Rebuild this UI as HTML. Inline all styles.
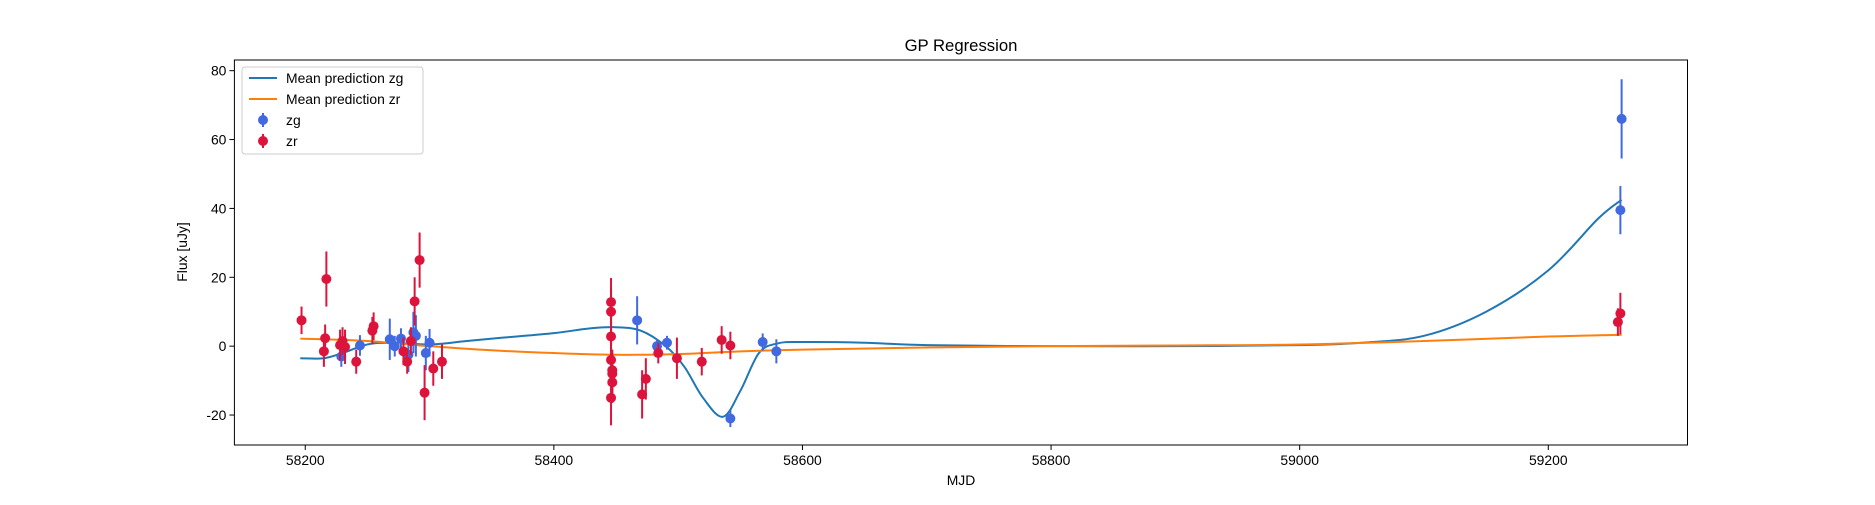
<!DOCTYPE html>
<html><head><meta charset="utf-8"><style>
body{margin:0;background:#fff}
svg text{font-family:"Liberation Sans","DejaVu Sans",sans-serif;fill:#000}
</style></head><body>
<svg id="chart" width="1875" height="500" xmlns="http://www.w3.org/2000/svg">
<rect width="1875" height="500" fill="#fff"/>
<g id="plot"></g>
</svg>
<script>
const zgMJD=[58229,58244,58268,58272,58277,58283,58287,58289,58297,58300,58467,58483,58491,58542,58568,58579,59258,59259];
const zgFlux=[-3,0.2,2,0,2.2,-2.5,4,3,-2,1,7.5,0,1,-21,1.2,-1.5,39.5,66];
const zgErr=[3,3,6,3,3,5,6,6,5,4,7,2,2,2.5,2.5,3.5,7,11.5];
const zrMJD=[58197,58215,58217,58216,58228,58230,58232,58241,58254,58255,58279,58282,58285,58288,58292,58296,58303,58310,58446,58446,58446,58446,58447,58447,58447,58446,58471,58474,58484,58499,58519,58535,58542,59256,59258];
const zrFlux=[7.5,-1.5,19.5,2.3,0.3,1.5,-0.2,-4.5,4.5,5.8,-1.5,-4.5,1.5,13,25,-13.5,-6.5,-4.5,12.8,10,2.8,-4,-7,-8,-10.5,-15,-14,-9.5,-2,-3.5,-4.5,1.8,0.2,7,9.5];
const zrErr=[4,4.5,8,4,4.5,4,5,3.5,4,4,4,3.5,4,7,8,8,5,5,7,7,7,6,6,6,6,8,7,6,3,6,4,4,4,4,6];
const gpZgMJD=[58196,58215,58230,58250,58270,58300,58330,58360,58400,58430,58450,58470,58490,58505,58520,58536,58550,58565,58580,58600,58650,58700,58800,58900,59000,59050,59100,59150,59200,59240,59259];
const gpZgMean=[-3.5,-3.5,-2,0.5,1,0.5,1.5,2.5,3.8,5.2,5.5,4.5,0,-6,-15,-20.5,-13,-2,0.8,1.2,1,0.3,0,0,0.3,1,3,10,22,37,42.5];
const gpZrMJD=[58196,58250,58300,58350,58400,58450,58500,58550,58600,58700,58800,58900,59000,59100,59200,59259];
const gpZrMean=[2.2,1.5,0,-1.2,-2,-2.5,-2.3,-1.5,-1,-0.4,0,0.2,0.5,1.5,2.8,3.3];
const xTicks=[58200,58400,58600,58800,59000,59200];
const yTicks=[-20,0,20,40,60,80];

const L=234.4,R=1687.5,T=60,B=445;
const xMin=58143,xMax=59312,yMin=-28.7,yMax=83.1;
const sx=v=>L+(v-xMin)/(xMax-xMin)*(R-L);
const sy=v=>B-(v-yMin)/(yMax-yMin)*(B-T);
const NS="http://www.w3.org/2000/svg";
const g=document.getElementById('plot');
function mk(t,a,p){const e=document.createElementNS(NS,t);for(const k in a)e.setAttribute(k,a[k]);(p||g).appendChild(e);return e;}

xTicks.forEach(v=>{
 const t=mk('line',{x1:sx(v),x2:sx(v),y1:B,y2:B+5,stroke:'#000','stroke-width':1});
 
 
 const l=mk('text',{x:sx(v),y:B+20,'font-size':13.9,'text-anchor':'middle'});l.textContent=v;
 
 
});
yTicks.forEach(v=>{
 const t=mk('line',{x1:L-5,x2:L,y1:sy(v),y2:sy(v),stroke:'#000','stroke-width':1});
 
 
 const l=mk('text',{x:L-8,y:sy(v)+5,'font-size':13.9,'text-anchor':'end'});l.textContent=v;
 
 
});

function line(xs,ys,color,name){
 const P=xs.map((x,i)=>[sx(x),sy(ys[i])]);
 let d='M'+P[0][0]+','+P[0][1];
 for(let i=0;i<P.length-1;i++){
  const p0=P[Math.max(0,i-1)],p1=P[i],p2=P[i+1],p3=P[Math.min(P.length-1,i+2)];
  const c1=[p1[0]+(p2[0]-p0[0])/6,p1[1]+(p2[1]-p0[1])/6];
  const c2=[p2[0]-(p3[0]-p1[0])/6,p2[1]-(p3[1]-p1[1])/6];
  d+=' C'+c1[0]+','+c1[1]+' '+c2[0]+','+c2[1]+' '+p2[0]+','+p2[1];
 }
 const p=mk('path',{d:d,fill:'none',stroke:color,'stroke-width':2,'stroke-linejoin':'round'});
 
 
}
line(gpZgMJD,gpZgMean,'#1f77b4','mean-prediction-zg-line');
line(gpZrMJD,gpZrMean,'#ff7f0e','mean-prediction-zr-line');

function pts(xs,ys,es,color,name){
 xs.forEach((x,i)=>{
  const b=mk('line',{x1:sx(x),x2:sx(x),y1:sy(ys[i]-es[i]),y2:sy(ys[i]+es[i]),stroke:color,'stroke-width':2});
  
  
  const c=mk('circle',{cx:sx(x),cy:sy(ys[i]),r:5,fill:color});
  
  
 });
}
pts(zgMJD,zgFlux,zgErr,'#4169e1','zg');
pts(zrMJD,zrFlux,zrErr,'#dc143c','zr');

const fr=mk('rect',{x:L,y:T,width:R-L,height:B-T,fill:'none',stroke:'#000','stroke-width':1});


</script>
<svg style="position:absolute;left:0;top:0" width="1875" height="500" xmlns="http://www.w3.org/2000/svg">
<text x="961" y="51" font-size="16.7" text-anchor="middle">GP Regression</text>
<text x="961" y="485" font-size="13.9" text-anchor="middle">MJD</text>
<text x="187" y="252" font-size="13.9" text-anchor="middle" transform="rotate(-90 187 252)">Flux [uJy]</text>
<g>
<rect x="242" y="67" width="181" height="87" rx="3" fill="#fff" fill-opacity="0.8" stroke="#ccc"/>
<line x1="249" x2="277" y1="78" y2="78" stroke="#1f77b4" stroke-width="2"/>
<text x="286" y="83" font-size="13.9">Mean prediction zg</text>
<line x1="249" x2="277" y1="99" y2="99" stroke="#ff7f0e" stroke-width="2"/>
<text x="286" y="104" font-size="13.9">Mean prediction zr</text>
<line x1="263" x2="263" y1="113" y2="127" stroke="#4169e1" stroke-width="2"/>
<circle cx="263" cy="120" r="5" fill="#4169e1"/>
<text x="286" y="125" font-size="13.9">zg</text>
<line x1="263" x2="263" y1="134" y2="148" stroke="#dc143c" stroke-width="2"/>
<circle cx="263" cy="141" r="5" fill="#dc143c"/>
<text x="286" y="146" font-size="13.9">zr</text>
</g>
</svg>
</body></html>
